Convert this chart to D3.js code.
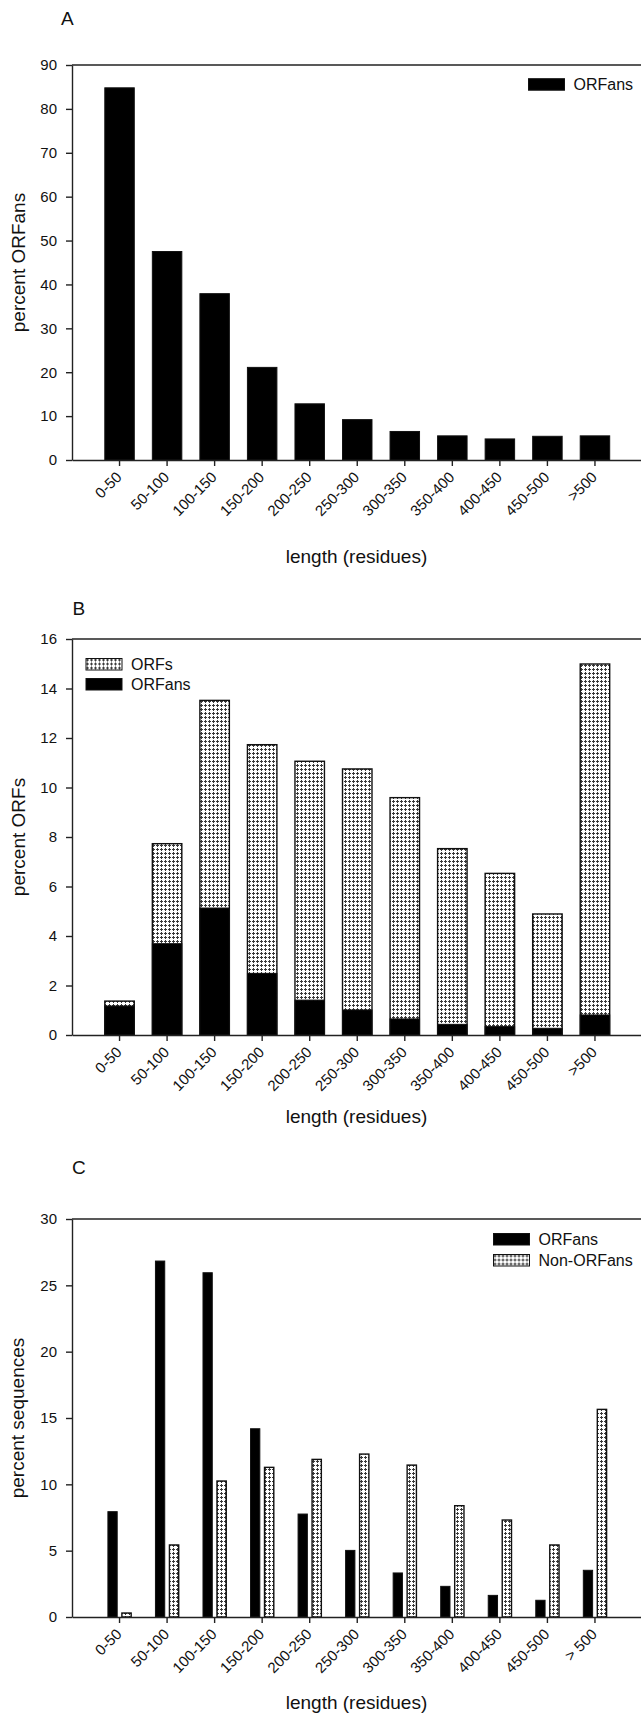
<!DOCTYPE html>
<html>
<head>
<meta charset="utf-8">
<script src="https://cdn.jsdelivr.net/npm/d3@7"></script>
<style>
  body { margin: 0; background: #fff; }
  svg { display: block; font-family: "Liberation Sans", Arial, Helvetica, sans-serif; }
</style>
</head>
<body>
<div id="figure"></div>
<script>
/*
*   Three panels on the length of ORFs and ORFans (in residues)
*   A: share of ORFs in each length bin that are ORFans
*   B: length distribution of all ORFs with the ORFan part drawn over it
*   C: length distribution of ORFan and non-ORFan sequences side by side
*/

// length bins, panel C writes the last one with a space
const lengthBins = ["0-50", "50-100", "100-150", "150-200", "200-250", "250-300",
  "300-350", "350-400", "400-450", "450-500", ">500"];
const lengthBinsC = ["0-50", "50-100", "100-150", "150-200", "200-250", "250-300",
  "300-350", "350-400", "400-450", "450-500", "> 500"];

// A - percent ORFans
const orfanShare = [84.8, 47.5, 37.9, 21.1, 12.8, 9.2, 6.5, 5.5, 4.8, 5.4, 5.5];

// B - percent ORFs (all ORFs and the ORFans)
const orfPercent   = [1.37, 7.73, 13.52, 11.73, 11.06, 10.75, 9.59, 7.53, 6.53, 4.89, 14.99];
const orfanPercent = [1.17, 3.69, 5.13, 2.49, 1.41, 1.01, 0.65, 0.43, 0.34, 0.27, 0.81];

// C - percent sequences
const orfanSeqPercent    = [7.94, 26.83, 25.95, 14.19, 7.76, 5.02, 3.32, 2.31, 1.63, 1.26, 3.52];
const nonOrfanSeqPercent = [0.30, 5.43, 10.25, 11.28, 11.88, 12.28, 11.45, 8.39, 7.31, 5.43, 15.65];

// y tick values for each panel
const yTicksA = [0, 10, 20, 30, 40, 50, 60, 70, 80, 90];
const yTicksB = [0, 2, 4, 6, 8, 10, 12, 14, 16];
const yTicksC = [0, 5, 10, 15, 20, 25, 30];

const width = 641, height = 1714;
const plotLeft = 72, plotRight = 642.5;
const ink = "#111";

const svg = d3.select("#figure")
  .append("svg")
    .attr("width", width)
    .attr("height", height);

// stippled fill used for the grey bars
const pat = svg.append("defs").append("pattern")
  .attr("id", "stipple")
  .attr("width", 4).attr("height", 4)
  .attr("patternUnits", "userSpaceOnUse");
pat.append("rect").attr("width", 4).attr("height", 4).attr("fill", "#fff");
pat.append("rect").attr("x", 1).attr("y", 0).attr("width", 1).attr("height", 3).attr("fill", "#3a3a3a");
pat.append("rect").attr("x", 0).attr("y", 1).attr("width", 3).attr("height", 1).attr("fill", "#3a3a3a");

// one panel: frame, axes, titles and legend; the bars are added by the caller
function drawPanel(p) {
  const g = svg.append("g");

  const x = d3.scaleBand()
    .domain(d3.range(p.labels.length))
    .range([plotLeft, plotRight])
    .paddingInner(0.38)
    .paddingOuter(0.69);

  const y = d3.scaleLinear()
    .domain([0, d3.max(p.ticks)])
    .range([p.bottom, p.top]);

  // panel letter
  g.append("text")
    .attr("x", p.letterX).attr("y", p.letterY)
    .attr("font-size", 19).attr("fill", ink)
    .text(p.letter);

  const bars = g.append("g");
  p.bars(bars, x, y);

  // top edge of the frame
  g.append("line")
    .attr("x1", plotLeft).attr("x2", plotRight)
    .attr("y1", p.top).attr("y2", p.top)
    .attr("stroke", "#222").attr("stroke-width", 1.4);

  // y axis
  const ya = g.append("g")
    .attr("transform", `translate(${plotLeft},0)`)
    .call(d3.axisLeft(y).tickValues(p.ticks).tickSize(6).tickPadding(9).tickSizeOuter(0));

  // x axis with slanted labels
  const xa = g.append("g")
    .attr("transform", `translate(0,${p.bottom})`)
    .call(d3.axisBottom(x).tickSize(6).tickSizeOuter(0).tickFormat(i => p.labels[i]));
  xa.selectAll(".tick text")
    .attr("x", 0).attr("y", 0).attr("dy", 0)
    .attr("text-anchor", "end")
    .attr("transform", "translate(3,18) rotate(-45)");

  [ya, xa].forEach(a => {
    a.attr("font-family", null).attr("font-size", 15);
    a.selectAll(".domain, .tick line").attr("stroke", "#222").attr("stroke-width", 1.4);
    a.selectAll(".tick text").attr("fill", ink);
  });

  // axis titles
  g.append("text")
    .attr("x", (plotLeft + 641) / 2).attr("y", p.xTitleY)
    .attr("text-anchor", "middle")
    .attr("font-size", 19).attr("fill", ink)
    .text("length (residues)");

  g.append("text")
    .attr("transform", `translate(${p.yTitleX},${(p.top + p.bottom) / 2}) rotate(-90)`)
    .attr("text-anchor", "middle")
    .attr("font-size", 19).attr("fill", ink)
    .text(p.yTitle);

  // legend
  const leg = g.selectAll(".legend")
    .data(p.legend)
    .join("g")
      .attr("transform", (d, i) => `translate(${p.legendX},${p.legendY + i * p.legendGap})`);
  leg.append("rect")
    .attr("width", 36).attr("height", 11.5)
    .attr("fill", d => d.fill)
    .attr("stroke", "#111").attr("stroke-width", 1);
  leg.append("text")
    .attr("x", 45).attr("y", 11.5)
    .attr("font-size", 16).attr("fill", ink)
    .text(d => d.label);
}

// Panel A
drawPanel({
  letter: "A", letterX: 61, letterY: 25,
  top: 65, bottom: 460, ticks: yTicksA, labels: lengthBins,
  xTitleY: 563, yTitleX: 25, yTitle: "percent ORFans",
  legendX: 528.5, legendY: 78.7, legendGap: 20,
  legend: [{label: "ORFans", fill: "#000"}],
  bars: function(g, x, y) {
    g.selectAll("rect")
      .data(orfanShare)
      .join("rect")
        .attr("x", (d, i) => x(i))
        .attr("y", d => y(d))
        .attr("width", x.bandwidth())
        .attr("height", d => y(0) - y(d))
        .attr("fill", "#000")
        .attr("stroke", "#111");
  }
});

// Panel B
drawPanel({
  letter: "B", letterX: 72.5, letterY: 615,
  top: 639, bottom: 1035, ticks: yTicksB, labels: lengthBins,
  xTitleY: 1123, yTitleX: 25, yTitle: "percent ORFs",
  legendX: 86, legendY: 658.5, legendGap: 20,
  legend: [{label: "ORFs", fill: "url(#stipple)"}, {label: "ORFans", fill: "#000"}],
  bars: function(g, x, y) {
    g.selectAll(".orf")
      .data(orfPercent)
      .join("rect")
        .attr("class", "orf")
        .attr("x", (d, i) => x(i))
        .attr("y", d => y(d))
        .attr("width", x.bandwidth())
        .attr("height", d => y(0) - y(d))
        .attr("fill", "url(#stipple)")
        .attr("stroke", "#111").attr("stroke-width", 1.4);
    g.selectAll(".orfan")
      .data(orfanPercent)
      .join("rect")
        .attr("class", "orfan")
        .attr("x", (d, i) => x(i))
        .attr("y", d => y(d))
        .attr("width", x.bandwidth())
        .attr("height", d => y(0) - y(d))
        .attr("fill", "#000")
        .attr("stroke", "#111");
  }
});

// Panel C
drawPanel({
  letter: "C", letterX: 72, letterY: 1174,
  top: 1219, bottom: 1617, ticks: yTicksC, labels: lengthBinsC,
  xTitleY: 1709, yTitleX: 24, yTitle: "percent sequences",
  legendX: 493.5, legendY: 1233.5, legendGap: 21,
  legend: [{label: "ORFans", fill: "#000"}, {label: "Non-ORFans", fill: "url(#stipple)"}],
  bars: function(g, x, y) {
    // two thin bars inside each bin
    const inner = d3.scaleBand()
      .domain(["orfan", "non"])
      .range([0, x.bandwidth()])
      .paddingInner(0.336)
      .paddingOuter(0.222);
    g.selectAll(".orfan")
      .data(orfanSeqPercent)
      .join("rect")
        .attr("class", "orfan")
        .attr("x", (d, i) => x(i) + inner("orfan"))
        .attr("y", d => y(d))
        .attr("width", inner.bandwidth())
        .attr("height", d => y(0) - y(d))
        .attr("fill", "#000")
        .attr("stroke", "#111");
    g.selectAll(".non")
      .data(nonOrfanSeqPercent)
      .join("rect")
        .attr("class", "non")
        .attr("x", (d, i) => x(i) + inner("non"))
        .attr("y", d => y(d))
        .attr("width", inner.bandwidth())
        .attr("height", d => y(0) - y(d))
        .attr("fill", "url(#stipple)")
        .attr("stroke", "#111").attr("stroke-width", 1.4);
  }
});
</script>
</body>
</html>
